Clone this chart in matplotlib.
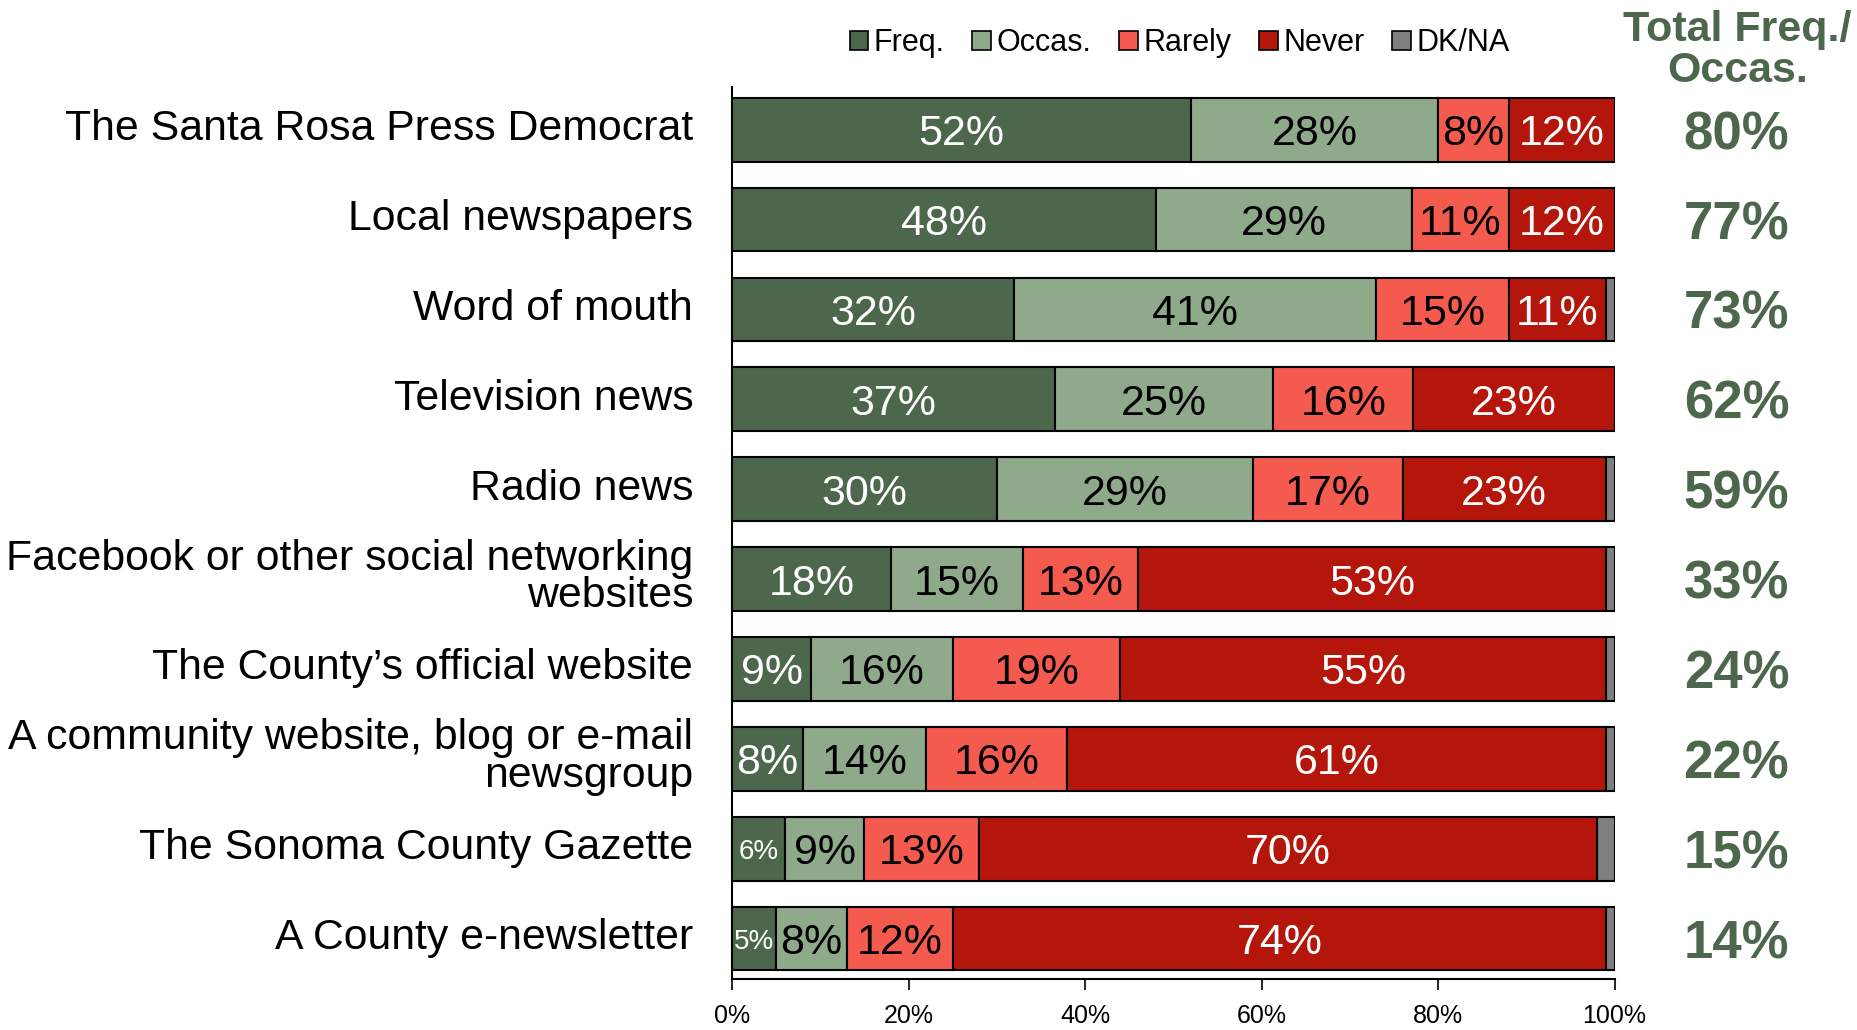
import matplotlib
matplotlib.use("Agg")
import matplotlib.pyplot as plt
import numpy as np
from matplotlib.patches import Patch
from matplotlib.ticker import PercentFormatter
from matplotlib.transforms import ScaledTranslation

plt.rcParams["font.family"] = ["Liberation Sans", "DejaVu Sans"]

sources = [
    "The Santa Rosa Press Democrat",
    "Local newspapers",
    "Word of mouth",
    "Television news",
    "Radio news",
    "Facebook or other social networking\nwebsites",
    "The County\u2019s official website",
    "A community website, blog or e-mail\nnewsgroup",
    "The Sonoma County Gazette",
    "A County e-newsletter",
]
freq = [52, 48, 32, 36.6, 30, 18, 9, 8, 6, 5]
occas = [28, 29, 41, 24.7, 29, 15, 16, 14, 9, 8]
rarely = [8, 11, 15, 15.9, 17, 13, 19, 16, 13, 12]
never = [12, 12, 11, 22.8, 23, 53, 55, 61, 70, 74]
dkna = [0, 0, 1, 0, 1, 1, 1, 1, 2, 1]
totals = [80, 77, 73, 62, 59, 33, 24, 22, 15, 14]

series = [
    ("Freq.", freq, "#4d674d", "white"),
    ("Occas.", occas, "#8fa98b", "black"),
    ("Rarely", rarely, "#f55a4e", "black"),
    ("Never", never, "#b5160b", "white"),
    ("DK/NA", dkna, "#7f7f7f", None),
]
green = "#4d674d"

fig = plt.figure(figsize=(18.58, 10.30), dpi=100)
ax = fig.add_axes([0.394, 0.0495, 0.475, 0.8665])

y = np.arange(len(sources))
left = np.zeros(len(sources))
for name, vals, col, tcol in series:
    vals = np.array(vals, dtype=float)
    ax.barh(y, vals, left=left, height=0.71, color=col, edgecolor="black",
            linewidth=1.5, label=name)
    if tcol is not None:
        for i, v in enumerate(vals):
            if v <= 0:
                continue
            fs = 31 if v >= 7 else 20
            ax.text(left[i] + v / 2, y[i], f"{round(v):.0f}%", ha="center",
                    va="center_baseline", color=tcol, fontsize=fs)
    left += vals

for i, t in enumerate(totals):
    ax.text(1.138, y[i], f"{t}%", transform=ax.get_yaxis_transform(),
            ha="center", va="center_baseline", fontsize=38, fontweight="bold",
            color=green)

fig.text(0.935, 0.951, "Total Freq./\nOccas.", ha="center", va="center",
         fontsize=31, fontweight="bold", color=green, linespacing=1.02)

ax.set_xlim(0, 100)
ax.set_ylim(9.45, -0.48)
ax.set_yticks(y)
ax.set_yticklabels(sources, fontsize=30.8, linespacing=0.92)
ax.tick_params(axis="y", length=0, pad=28)
shift = ScaledTranslation(0, 5 / 100, fig.dpi_scale_trans)
for lab in ax.get_yticklabels():
    lab.set_transform(lab.get_transform() + shift)
ax.xaxis.set_major_formatter(PercentFormatter(decimals=0))
ax.set_xticks([0, 20, 40, 60, 80, 100])
ax.tick_params(axis="x", labelsize=18, length=8, width=1.2, direction="out",
               pad=10)
for s in ["top", "right"]:
    ax.spines[s].set_visible(False)
for s in ["left", "bottom"]:
    ax.spines[s].set_linewidth(1.5)

handles = [Patch(facecolor=c, edgecolor="black", linewidth=1.2, label=n)
           for n, _, c, _ in series]
fig.legend(handles=handles, loc="center", bbox_to_anchor=(0.635, 0.958),
           ncol=5, frameon=False, fontsize=22, handlelength=0.6,
           handleheight=0.6, handletextpad=0.2, columnspacing=0.9)

fig.savefig("out.png", dpi=100)
